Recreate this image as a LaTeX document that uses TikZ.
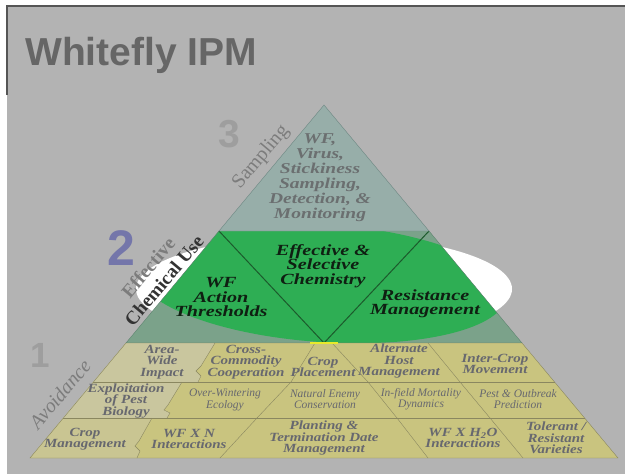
\documentclass[tikz,border=0pt]{standalone}
\usepackage{fontspec}
\setmainfont{Liberation Serif}
\setsansfont{Liberation Sans}
\newfontfamily\widefont[FakeStretch=1.3]{Liberation Serif}
\newfontfamily\cellfont[FakeStretch=1.2]{Liberation Serif}
\definecolor{bggray}{HTML}{B3B3B3}
\definecolor{framegray}{HTML}{555555}
\definecolor{titlegray}{HTML}{666666}
\definecolor{topfill}{HTML}{97AEA9}
\definecolor{topline}{HTML}{6E8883}
\definecolor{topgray}{HTML}{6B6F70}
\definecolor{midfill}{HTML}{7BA28A}
\definecolor{midline}{HTML}{5E8470}
\definecolor{greenfill}{HTML}{2EAE54}
\definecolor{greenline}{HTML}{1C5A2C}
\definecolor{midblack}{HTML}{0F1F12}
\definecolor{khaki}{HTML}{C9C47F}
\definecolor{khakilight}{HTML}{C9C69E}
\definecolor{khakiline}{HTML}{8A8760}
\definecolor{cellgray}{HTML}{67686F}
\definecolor{numgray}{HTML}{9E9E9E}
\definecolor{numblue}{HTML}{7476AA}
\definecolor{sidegray}{HTML}{7C7C7C}
\definecolor{glow}{HTML}{E8EA2A}
\begin{document}
\begin{tikzpicture}
  [x=1pt,y=-1pt,every node/.style={inner sep=0pt,align=center},
  toptext/.style={text=topgray,font=\widefont\fontsize{15}{15}\selectfont\bfseries\itshape},
  midtext/.style={text=midblack,font=\widefont\fontsize{15.5}{14.5}\selectfont\bfseries\itshape},
  cellbold/.style={text=cellgray,font=\cellfont\fontsize{12.5}{11.5}\selectfont\bfseries\itshape},
  cellthin/.style={text=cellgray,font=\fontsize{11.5}{11.5}\selectfont\itshape},
  levelnum/.style={font=\sffamily\bfseries\fontsize{#1}{#1}\selectfont},
  sidetext/.style={text=sidegray,rotate=50}]
  \useasboundingbox (0,0) rectangle (625,474);
  \fill[white] (0,0) rectangle (625,474);
  \fill[bggray] (7,6) rectangle (625,474);
  \draw[framegray,line width=1.2pt] (7,95) -- (7,6) -- (625,6);

  \coordinate (apex) at (324,105);
  \coordinate (l1) at (219,231); \coordinate (r1) at (429,231);
  \coordinate (l2) at (126,343); \coordinate (r2) at (522,343);
  \coordinate (l3) at (93,382);  \coordinate (r3) at (555,382);
  \coordinate (l4) at (63,418);  \coordinate (r4) at (585,418);
  \coordinate (l5) at (30,458);  \coordinate (r5) at (618,458);
  \coordinate (v) at (324,343);

  \fill[white] (324,289) ellipse [x radius=188pt,y radius=54pt];
  \fill[midfill] (l1) -- (r1) -- (r2) -- (l2) -- cycle;
  \begin{scope}
    \clip (l1) -- (r1) -- (r2) -- (l2) -- cycle;
    \fill[greenfill,rotate around={-4:(322,283)}] (322,283) ellipse [x radius=185pt,y radius=59pt];
  \end{scope}
  \draw[midline] (l1) -- (l2) -- (r2) -- (r1);
  \draw[greenline,line width=1pt] (l1) -- (v) -- (r1);
  \filldraw[fill=topfill,draw=topline] (apex) -- (r1) -- (l1) -- cycle;

  \fill[khaki] (l2) -- (r2) -- (r5) -- (l5) -- cycle;
  \fill[khakilight] (l2) -- (215,343) -- (201,366) -- (196,371) -- (201,376) -- (198,382) -- (l3) -- cycle;
  \fill[khakilight] (l3) -- (182,382) -- (168,405) -- (164,410) -- (170,413) -- (167,418) -- (l4) -- cycle;
  \fill[khakilight!60!khaki] (l4) -- (152,418) -- (139,441) -- (135,446) -- (140,451) -- (137,458) -- (l5) -- cycle;
  \draw[khakiline] (l2) -- (r2) -- (r5) -- (l5) -- cycle;
  \draw[khakiline] (l3) -- (r3);
  \draw[khakiline] (l4) -- (r4);
  \draw[khakiline] (215,343) -- (201,366) -- (196,371) -- (201,376) -- (198,382);
  \draw[khakiline] (182,382) -- (168,405) -- (164,410) -- (170,413) -- (167,418);
  \draw[khakiline] (152,418) -- (139,441) -- (135,446) -- (140,451) -- (137,458);
  \draw[khakiline] (315,343) -- (291,382) -- (257,418) -- (220,458);
  \draw[khakiline] (332,343) -- (368,382) -- (397,418) -- (428,458);
  \draw[khakiline] (428,343) -- (460,382) -- (490,418) -- (523,458);
  \draw[glow,line width=1.5pt] (310,343) -- (338,343);

  \node[anchor=base west,text=titlegray,font=\sffamily\bfseries\fontsize{39}{39}\selectfont] (title) at (25,65) {Whitefly IPM};

  \node[toptext] (sampbox) at (320,178) {WF,\\Virus,\\Stickiness\\Sampling,\\Detection, \&\\Monitoring};

  \node[midtext] (thresh) at (221,297) {WF\\Action\\Thresholds};
  \node[midtext] (chem) at (323,266) {Effective \&\\Selective\\Chemistry};
  \node[midtext] (resist) at (425,304) {Resistance\\Management};

  \node[cellbold] (areawide) at (162,362) {Area-\\Wide\\Impact};
  \node[cellbold] (crosscom) at (246,362) {Cross-\\Commodity\\Cooperation};
  \node[cellbold] (placement) at (323,367) {Crop\\Placement};
  \node[cellbold] (althost) at (399,361) {Alternate\\Host\\Management};
  \node[cellbold] (intercrop) at (495,364) {Inter-Crop\\Movement};

  \node[cellbold] (exploit) at (126,401) {Exploitation\\of Pest\\Biology};
  \node[cellthin] (winter) at (225,400) {Over-Wintering\\Ecology};
  \node[cellthin] (enemy) at (325,399) {Natural Enemy\\Conservation};
  \node[cellthin] (mortal) at (421,399) {In-field Mortality\\Dynamics};
  \node[cellthin] (outbreak) at (518,399) {Pest \& Outbreak\\Prediction};

  \node[cellbold] (cropman) at (85,439) {Crop\\Management};
  \node[cellbold] (wfn) at (189,439) {WF X N\\Interactions};
  \node[cellbold] (planting) at (324,438) {Planting \&\\Termination Date\\Management};
  \node[cellbold] (wfwater) at (463,438) {WF X H\textsubscript{2}O\\Interactions};
  \node[cellbold] (tolerant) at (556,438) {Tolerant /\\Resistant\\Varieties};

  \node[levelnum=39,text=numgray] (three) at (229,134) {3};
  \node[levelnum=50,text=numblue] (two) at (121,248) {2};
  \node[levelnum=35,text=numgray] (one) at (40,355) {1};

  \node[sidetext,font=\fontsize{20}{20}\selectfont] (sampling) at (261,157) {Sampling};
  \node[sidetext,font=\fontsize{20}{20}\selectfont\itshape] (avoid) at (60,394) {Avoidance};
  \node[sidetext,font=\fontsize{19}{20.5}\selectfont\bfseries] (chemuse) at (156,274) {Effective\\\textcolor{black!80}{Chemical Use}};
\end{tikzpicture}
\end{document}
